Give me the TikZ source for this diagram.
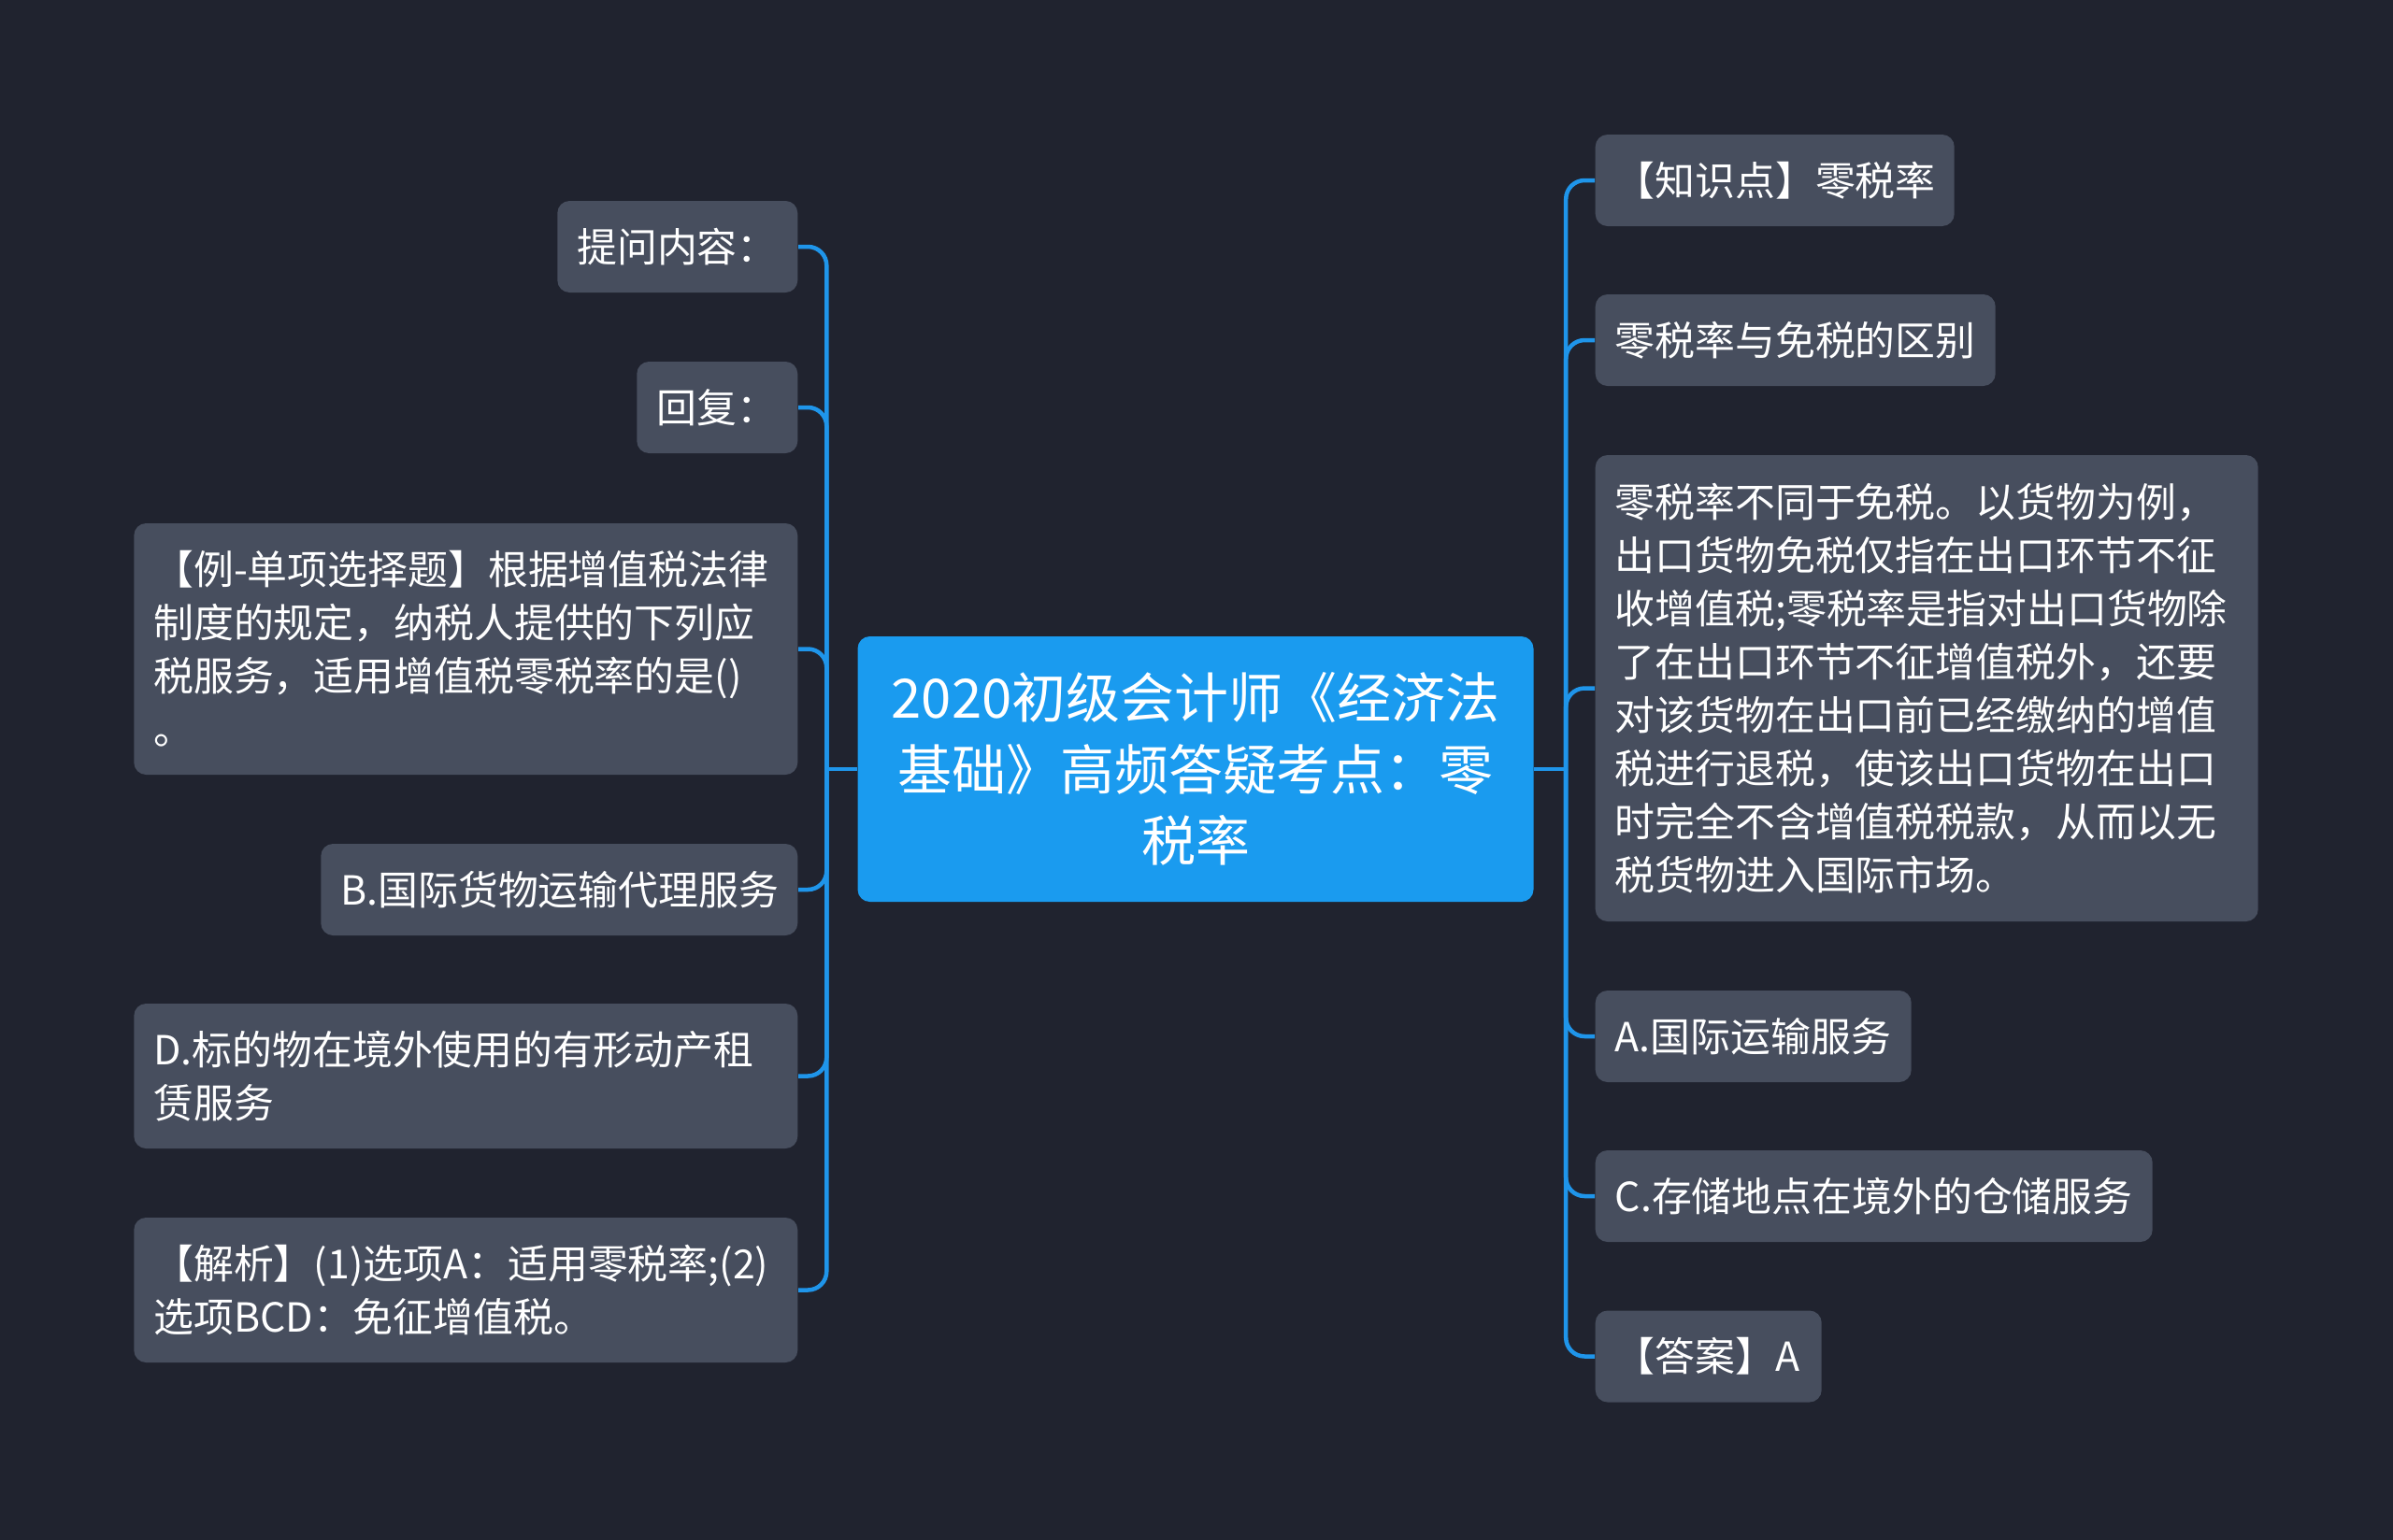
\documentclass[tikz,border=0pt]{standalone}
\usepackage{fontspec}
\setmainfont{Noto Sans CJK SC}
\definecolor{bgdark}{HTML}{20232F}
\definecolor{leafgray}{HTML}{474E5E}
\definecolor{rootblue}{HTML}{1A9BEF}
\definecolor{linkblue}{HTML}{1F95EA}
\tikzstyle{leaf-box} = [fill=leafgray, text=white, rounded corners=0.13cm,
    rectangle, inner xsep=0.21cm, inner ysep=0pt, minimum height=0.98cm,
    align=left, font=\fontsize{12.2pt}{16.2pt}\selectfont]
\tikzstyle{root-box} = [fill=rootblue, text=white, rounded corners=0.13cm,
    rectangle, inner xsep=0.2cm, inner ysep=0pt, text width=6.83cm,
    minimum height=2.84cm, align=center,
    font=\fontsize{16.5pt}{21.8pt}\selectfont]
\tikzstyle{branch-line} = [draw=linkblue, line width=0.045cm, rounded corners=0.2cm]

\begin{document}
\begin{tikzpicture}
\fill[bgdark] (0,0) rectangle (25.6,-16.48);
\useasboundingbox (0,0) rectangle (25.6,-16.48);

\node [root-box] (root) at (12.79,-8.23)
    {2020初级会计师《经济法\\基础》高频答疑考点：零\\税率};

% left side
\node [leaf-box, anchor=east, text width=2.15cm] (ask) at (8.54,-2.64) {提问内容：};
\node [leaf-box, anchor=east, text width=1.30cm] (reply) at (8.54,-4.36) {回复：};
\node [leaf-box, anchor=east, text width=6.68cm, minimum height=2.69cm] (example) at (8.54,-6.945)
    {【例-单项选择题】根据增值税法律\\制度的规定，纳税人提供的下列应\\税服务，适用增值税零税率的是()\\。};
\node [leaf-box, anchor=east, text width=4.68cm] (optB) at (8.54,-9.52) {B.国际货物运输代理服务};
\node [leaf-box, anchor=east, text width=6.68cm, minimum height=1.55cm] (optD) at (8.54,-11.515)
    {D.标的物在境外使用的有形动产租\\赁服务};
\node [leaf-box, anchor=east, text width=6.68cm, minimum height=1.55cm] (analysis) at (8.54,-13.805)
    {【解析】(1)选项A：适用零税率;(2)\\选项BCD：免征增值税。};

% right side
\node [leaf-box, anchor=west, text width=3.42cm] (point) at (17.06,-1.93) {【知识点】零税率};
\node [leaf-box, anchor=west, text width=3.86cm] (diff) at (17.06,-3.64) {零税率与免税的区别};
\node [leaf-box, anchor=west, text width=6.67cm, minimum height=4.99cm] (explain) at (17.06,-7.365)
    {零税率不同于免税。以货物为例，\\出口货物免税仅指在出口环节不征\\收增值税;零税率是指对出口货物除\\了在出口环节不征增值税外，还要\\对该货物在出口前已经缴纳的增值\\税进行退税，使该出口货物在出口\\时完全不含增值税税款，从而以无\\税货物进入国际市场。};
\node [leaf-box, anchor=west, text width=2.96cm] (optA) at (17.06,-11.09) {A.国际运输服务};
\node [leaf-box, anchor=west, text width=5.54cm] (optC) at (17.06,-12.80) {C.存储地点在境外的仓储服务};
\node [leaf-box, anchor=west, text width=2.00cm] (answer) at (17.06,-14.515) {【答案】A};

% connectors
\path (root.west) ++(-0.325,0) coordinate (ljoin);
\path (root.east) ++(0.34,0) coordinate (rjoin);
\draw [branch-line] (root.west) -- (ljoin);
\draw [branch-line] (root.east) -- (rjoin);
\foreach \leaf in {ask,reply,example,optB,optD,analysis}
    \draw [branch-line] (ljoin) |- (\leaf.east);
\foreach \leaf in {point,diff,explain,optA,optC,answer}
    \draw [branch-line] (rjoin) |- (\leaf.west);
\end{tikzpicture}
\end{document}
